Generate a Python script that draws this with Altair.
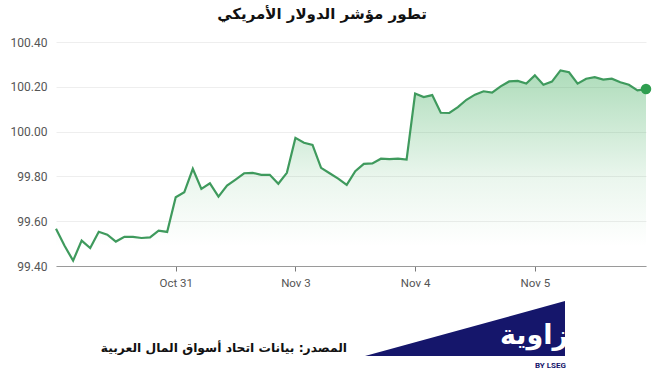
import altair as alt
import pandas as pd

# Index (hourly samples) and US Dollar Index values
values = [
    99.566, 99.49, 99.424, 99.513, 99.48, 99.553, 99.54, 99.509, 99.530, 99.530,
    99.525, 99.528, 99.558, 99.552, 99.707, 99.729, 99.834, 99.744, 99.769, 99.71,
    99.759, 99.786, 99.814, 99.816, 99.807, 99.807, 99.767, 99.816, 99.972, 99.95,
    99.941, 99.838, 99.814, 99.79, 99.762, 99.823, 99.856, 99.858, 99.879, 99.877,
    99.879, 99.875, 100.170, 100.154, 100.163, 100.084, 100.083, 100.109, 100.142, 100.165,
    100.18, 100.174, 100.202, 100.224, 100.226, 100.215, 100.251, 100.209, 100.223, 100.273,
    100.265, 100.214, 100.236, 100.243, 100.232, 100.236, 100.22, 100.209, 100.184, 100.19,
]
index = list(range(len(values)))
tick_positions = [14, 28, 42, 56]
tick_labels = ["Oct 31", "Nov 3", "Nov 4", "Nov 5"]
y_ticks = [99.4, 99.6, 99.8, 100.0, 100.2, 100.4]

title_text = "تطور مؤشر الدولار الأمريكي"
source_text = "المصدر: بيانات اتحاد أسواق المال العربية"
logo_text = "زاوية"
logo_sub = "BY LSEG"

df = pd.DataFrame({"i": index, "v": values})
last = df.tail(1)

label_map = "{" + ",".join(f"'{p}':'{l}'" for p, l in zip(tick_positions, tick_labels)) + "}"

x_enc = alt.X(
    "i:Q",
    scale=alt.Scale(domain=[0, len(values) - 1], nice=False, zero=False),
    axis=alt.Axis(
        values=tick_positions,
        labelExpr=f"{label_map}[datum.value]",
        title=None,
        grid=False,
        domainColor="#9a9a9a",
        tickColor="#7a7a7a",
        tickSize=5,
        labelColor="#555555",
        labelFont="Roboto",
        labelFontSize=11.5,
        labelPadding=6,
    ),
)
y_scale = alt.Scale(domain=[99.4, 100.4], nice=False, zero=False)
y_enc = alt.Y(
    "v:Q",
    scale=y_scale,
    axis=alt.Axis(
        values=y_ticks,
        format=".2f",
        title=None,
        domain=False,
        ticks=False,
        gridColor="#eeeeee",
        labelColor="#555555",
        labelFont="Roboto",
        labelFontSize=12,
        labelPadding=9,
    ),
)

base = alt.Chart(df)

area = base.mark_area(
    color=alt.Gradient(
        gradient="linear",
        x1=1, x2=1, y1=0, y2=1,
        stops=[
            alt.GradientStop(color="rgba(52,168,83,0.40)", offset=0),
            alt.GradientStop(color="rgba(52,168,83,0.10)", offset=0.55),
            alt.GradientStop(color="rgba(52,168,83,0.0)", offset=0.9),
        ],
    )
).encode(x=x_enc, y=y_enc, y2=alt.datum(99.4))

line = base.mark_line(color="#3f9a5d", strokeWidth=2.2).encode(x="i:Q", y="v:Q")

dot = alt.Chart(last).mark_circle(color="#2f9e50", size=110, opacity=1).encode(x="i:Q", y="v:Q")

one = pd.DataFrame({"t": [0]})

title = alt.Chart(pd.DataFrame({"t": [title_text]})).mark_text(
    font="DejaVu Sans", fontSize=15, fontWeight="bold", color="#111111", align="center", baseline="middle"
).encode(x=alt.value(266), y=alt.value(-28), text="t:N")

source = alt.Chart(pd.DataFrame({"t": [source_text]})).mark_text(
    font="DejaVu Sans", fontSize=12.3, fontWeight="bold", color="#111111", align="right", baseline="middle"
).encode(x=alt.value(291), y=alt.value(306), text="t:N")

triangle = alt.Chart(one).mark_point(
    shape="M-1,0.275 L1,-0.275 L1,0.275 Z", filled=True, color="#15166b", opacity=1, size=40000, strokeWidth=0
).encode(x=alt.value(409), y=alt.value(286.5))

logo = alt.Chart(pd.DataFrame({"t": [logo_text]})).mark_text(
    font="DejaVu Sans", fontSize=27, fontWeight="bold", color="white", align="right", baseline="middle"
).encode(x=alt.value(512), y=alt.value(294), text="t:N")

logo2 = alt.Chart(pd.DataFrame({"t": [logo_sub]})).mark_text(
    font="Roboto", fontSize=8, fontWeight="bold", color="#15166b", align="right", baseline="middle"
).encode(x=alt.value(510), y=alt.value(324), text="t:N")

chart = alt.layer(area, line, dot, title, source, triangle, logo, logo2).properties(
    width=590,
    height=224,
    autosize=alt.AutoSizeParams(type="none"),
    padding={"left": 56, "top": 42, "right": 18, "bottom": 112},
    background="white",
).configure_view(stroke=None)

chart.save("out.html", embed_options={"renderer": "svg", "actions": False})
